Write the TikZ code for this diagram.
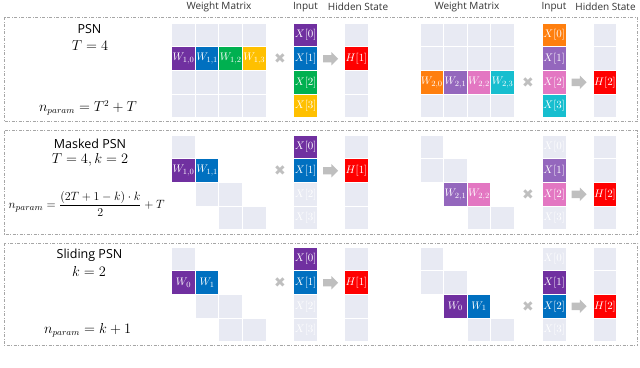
\documentclass[tikz,border=0pt]{standalone}
\usepackage{fontspec}
\setsansfont{Open Sans}
\newfontfamily\symfont{DejaVu Sans}
\usetikzlibrary{shapes.arrows, positioning}

\definecolor{cellgray}{HTML}{E8EAF3}
\definecolor{wpurple}{HTML}{7030A0}
\definecolor{wblue}{HTML}{0070C0}
\definecolor{wgreen}{HTML}{00B050}
\definecolor{wgold}{HTML}{FFC000}
\definecolor{worange}{HTML}{FF7F0E}
\definecolor{wlilac}{HTML}{9467BD}
\definecolor{wpink}{HTML}{E377C2}
\definecolor{wcyan}{HTML}{17BECF}
\definecolor{hred}{HTML}{FF0000}
\definecolor{framegray}{HTML}{A6A6A6}
\definecolor{signgray}{HTML}{BFBFBF}

\begin{document}
\begin{tikzpicture}[x=1pt, y=-1pt,
    cell/.style={rectangle, fill=cellgray, minimum size=22.6pt, inner sep=0pt, text=white, font=\fontsize{11}{11}\selectfont},
    panel/.style={draw=framegray, line width=0.8pt, dash pattern=on 3pt off 1.5pt on 1pt off 1.5pt},
    colhead/.style={font=\sffamily\fontsize{10}{12}\selectfont, text=black!80},
    psnlabel/.style={font=\sffamily\fontsize{12.5}{14}\selectfont},
    formula/.style={font=\fontsize{13.5}{16}\selectfont},
    crossmark/.style={text=signgray, font=\symfont\fontsize{14}{14}\selectfont, inner sep=0pt},
    gofwd/.style={single arrow, fill=signgray, single arrow head extend=3pt, minimum height=15pt, inner sep=0pt}
]
\useasboundingbox (0,0) rectangle (640,367);

% column headers
\node[colhead] (hwa) at (219,7) {Weight Matrix};
\node[colhead] (hxa) at (305.5,7) {Input};
\node[colhead] (hha) at (358,7) {Hidden State};
\node[colhead] (hwb) at (467,7) {Weight Matrix};
\node[colhead] (hxb) at (554,7) {Input};
\node[colhead] (hhb) at (605.5,7) {Hidden State};

% PSN
\draw[panel] (4,17.3) rectangle (637.7,121.7);
\node[psnlabel] (psn) at (89.5,29.5) {PSN};
\node[formula] (psnT) at (90,45.5) {$T=4$};
\node[formula] (psnN) at (88,108) {$n_{param}=T^2+T$};

\foreach \r in {0,2,3}
  \foreach \c in {0,...,3}
    \node[cell] (wa1-\r\c) at ({183.5+23.6*\c},{35.1+23.6*\r}) {};
\foreach \c/\col in {0/wpurple,1/wblue,2/wgreen,3/wgold}
  \node[cell, fill=\col] (wa1-1\c) at ({183.5+23.6*\c},58.7) {$W_{1,\c}$};
\foreach \r/\col in {0/wpurple,1/wblue,2/wgreen,3/wgold}
  \node[cell, fill=\col] (xa1-\r) at (305.7,{35.1+23.6*\r}) {$X[\r]$};
\foreach \r in {0,2,3}
  \node[cell] (ha1-\r) at (356.5,{35.1+23.6*\r}) {};
\node[cell, fill=hred] (ha1-1) at (356.5,58.7) {$H[1]$};
\node[crossmark] (ma1) at (280,58.7) {✖};
\node[gofwd, right=5.7pt of xa1-1] (ga1) {\rule{0pt}{7pt}};

\foreach \r in {0,1,3}
  \foreach \c in {0,...,3}
    \node[cell] (wb1-\r\c) at ({431.8+23.6*\c},{35.1+23.6*\r}) {};
\foreach \c/\col in {0/worange,1/wlilac,2/wpink,3/wcyan}
  \node[cell, fill=\col] (wb1-2\c) at ({431.8+23.6*\c},82.3) {$W_{2,\c}$};
\foreach \r/\col in {0/worange,1/wlilac,2/wpink,3/wcyan}
  \node[cell, fill=\col] (xb1-\r) at (554.2,{35.1+23.6*\r}) {$X[\r]$};
\foreach \r in {0,1,3}
  \node[cell] (hb1-\r) at (605,{35.1+23.6*\r}) {};
\node[cell, fill=hred] (hb1-2) at (605,82.3) {$H[2]$};
\node[crossmark] (mb1) at (528,82.3) {✖};
\node[gofwd, right=5.7pt of xb1-2] (gb1) {\rule{0pt}{7pt}};

% Masked PSN
\draw[panel] (4,130.7) rectangle (637.7,234);
\node[psnlabel] (mpsn) at (90,143.5) {Masked PSN};
\node[formula] (mpsnT) at (90,160) {$T=4,k=2$};
\node[formula, font=\fontsize{12.5}{14}\selectfont] (mpsnN) at (86.7,204) {$n_{param}=\displaystyle\frac{(2T+1-k)\cdot k}{2}+T$};

\foreach \r/\c in {0/0,2/1,2/2,3/2,3/3}
  \node[cell] (wa2-\r\c) at ({183.5+23.6*\c},{147.1+23.6*\r}) {};
\foreach \c/\col in {0/wpurple,1/wblue}
  \node[cell, fill=\col] (wa2-1\c) at ({183.5+23.6*\c},170.7) {$W_{1,\c}$};
\foreach \r/\col in {0/wpurple,1/wblue,2/cellgray,3/cellgray}
  \node[cell, fill=\col] (xa2-\r) at (305.7,{147.1+23.6*\r}) {$X[\r]$};
\foreach \r in {0,2,3}
  \node[cell] (ha2-\r) at (356.5,{147.1+23.6*\r}) {};
\node[cell, fill=hred] (ha2-1) at (356.5,170.7) {$H[1]$};
\node[crossmark] (ma2) at (280,170.7) {✖};
\node[gofwd, right=5.7pt of xa2-1] (ga2) {\rule{0pt}{7pt}};

\foreach \r/\c in {0/0,1/0,1/1,3/2,3/3}
  \node[cell] (wb2-\r\c) at ({431.8+23.6*\c},{147.1+23.6*\r}) {};
\foreach \c/\col in {1/wlilac,2/wpink}
  \node[cell, fill=\col] (wb2-2\c) at ({431.8+23.6*\c},194.3) {$W_{2,\c}$};
\foreach \r/\col in {0/cellgray,1/wlilac,2/wpink,3/cellgray}
  \node[cell, fill=\col] (xb2-\r) at (554.2,{147.1+23.6*\r}) {$X[\r]$};
\foreach \r in {0,1,3}
  \node[cell] (hb2-\r) at (605,{147.1+23.6*\r}) {};
\node[cell, fill=hred] (hb2-2) at (605,194.3) {$H[2]$};
\node[crossmark] (mb2) at (528,194.3) {✖};
\node[gofwd, right=5.7pt of xb2-2] (gb2) {\rule{0pt}{7pt}};

% Sliding PSN
\draw[panel] (4,243.3) rectangle (637.7,345.7);
\node[psnlabel] (spsn) at (89.5,255) {Sliding PSN};
\node[formula] (spsnk) at (89,271.7) {$k=2$};
\node[formula] (spsnN) at (87.7,330) {$n_{param}=k+1$};

\foreach \r/\c in {0/0,2/1,2/2,3/2,3/3}
  \node[cell] (wa3-\r\c) at ({183.5+23.6*\c},{259.1+23.6*\r}) {};
\foreach \c/\col in {0/wpurple,1/wblue}
  \node[cell, fill=\col] (wa3-1\c) at ({183.5+23.6*\c},282.7) {$W_{\c}$};
\foreach \r/\col in {0/wpurple,1/wblue,2/cellgray,3/cellgray}
  \node[cell, fill=\col] (xa3-\r) at (305.7,{259.1+23.6*\r}) {$X[\r]$};
\foreach \r in {0,2,3}
  \node[cell] (ha3-\r) at (356.5,{259.1+23.6*\r}) {};
\node[cell, fill=hred] (ha3-1) at (356.5,282.7) {$H[1]$};
\node[crossmark] (ma3) at (280,282.7) {✖};
\node[gofwd, right=5.7pt of xa3-1] (ga3) {\rule{0pt}{7pt}};

\foreach \r/\c in {0/0,1/0,1/1,3/2,3/3}
  \node[cell] (wb3-\r\c) at ({431.8+23.6*\c},{259.1+23.6*\r}) {};
\foreach \c/\col in {1/wpurple,2/wblue}
  \node[cell, fill=\col] (wb3-2\c) at ({431.8+23.6*\c},306.3) {$W_{\the\numexpr\c-1\relax}$};
\foreach \r/\col in {0/cellgray,1/wpurple,2/wblue,3/cellgray}
  \node[cell, fill=\col] (xb3-\r) at (554.2,{259.1+23.6*\r}) {$X[\r]$};
\foreach \r in {0,1,3}
  \node[cell] (hb3-\r) at (605,{259.1+23.6*\r}) {};
\node[cell, fill=hred] (hb3-2) at (605,306.3) {$H[2]$};
\node[crossmark] (mb3) at (528,306.3) {✖};
\node[gofwd, right=5.7pt of xb3-2] (gb3) {\rule{0pt}{7pt}};
\end{tikzpicture}
\end{document}
